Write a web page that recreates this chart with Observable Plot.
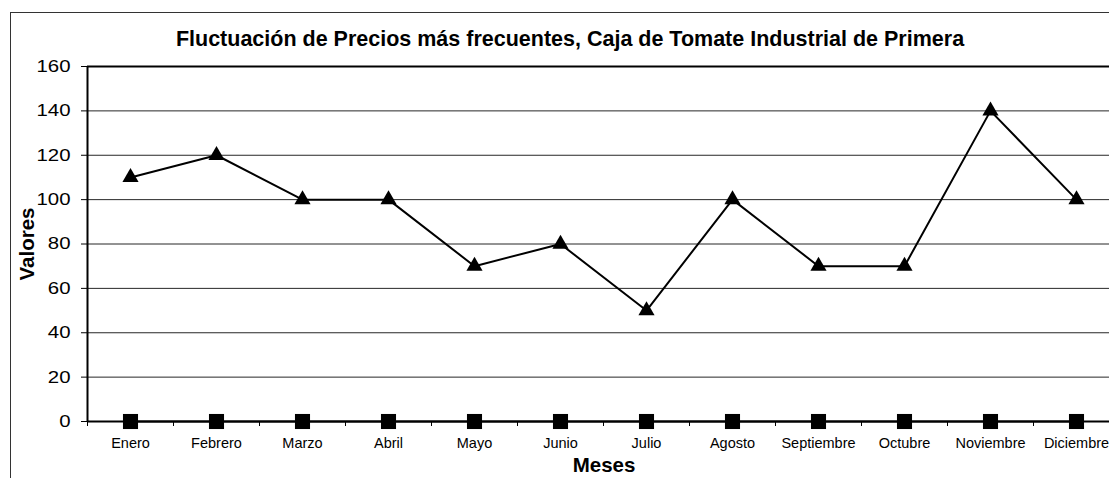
<!DOCTYPE html>
<html><head><meta charset="utf-8">
<script src="https://cdn.jsdelivr.net/npm/d3@7"></script>
<script src="https://cdn.jsdelivr.net/npm/@observablehq/plot@0.6"></script>
<style>
body{margin:0;overflow:hidden;background:#fff;font-family:"Liberation Sans",Arial,sans-serif;color:#000;}
#wrap{position:relative;width:1109px;height:478px;overflow:hidden;background:#fff;}
#frame{position:absolute;left:10px;top:12px;width:1200px;height:600px;border:1px solid #333;box-sizing:border-box;}
#title{position:absolute;left:10px;width:1120px;top:28px;text-align:center;font-weight:bold;font-size:21.5px;line-height:22px;white-space:nowrap;}
#chart{position:absolute;left:0;top:0;width:1140px;}
#chart svg{max-width:none;}
#ylab{position:absolute;left:27px;top:244px;transform:translate(-50%,-50%) rotate(-90deg);font-weight:bold;font-size:20.5px;white-space:nowrap;}
#xlab{position:absolute;left:604px;top:465px;transform:translate(-50%,-50%);font-weight:bold;font-size:20.5px;white-space:nowrap;}
</style></head>
<body>
<div id="wrap">
  <div id="frame"></div>
  <div id="title">Fluctuación de Precios más frecuentes, Caja de Tomate Industrial de Primera</div>
  <div id="chart"></div>
  <div id="ylab">Valores</div>
  <div id="xlab">Meses</div>
</div>
<script>
const months = ["Enero","Febrero","Marzo","Abril","Mayo","Junio","Julio","Agosto","Septiembre","Octubre","Noviembre","Diciembre"];
const precios = [110,120,100,100,70,80,50,100,70,70,140,100];
const serie2 = [0,0,0,0,0,0,0,0,0,0,0,0];
const yTicks = [0,20,40,60,80,100,120,140,160];

const dataA = months.map((m,i)=>({i:i+0.5, v:precios[i]}));
const dataB = months.map((m,i)=>({i:i+0.5, v:serie2[i]}));
const centers = months.map((m,i)=>i+0.5);
const bounds = d3.range(0, months.length+1);

const chart = Plot.plot({
  width: 1140, height: 478,
  marginLeft: 87, marginRight: 21, marginTop: 66, marginBottom: 57,
  style: {fontFamily: "Liberation Sans, Arial, sans-serif", color: "#000", background: "transparent", overflow: "visible", maxWidth: "none"},
  x: {domain: [0, months.length], axis: null},
  y: {domain: [0, 160], axis: null},
  marks: [
    Plot.ruleY(yTicks.filter(t=>t>0 && t<160), {stroke: "#000", strokeWidth: 1, strokeOpacity: 0.85}),
    Plot.ruleY([160], {stroke: "#000", strokeWidth: 2}),
    Plot.axisY({ticks: yTicks, tickSize: 6, tickPadding: 11, fontSize: 17, label: null, tickFormat: d=>String(d)}),
    Plot.axisX({ticks: bounds, tickSize: 5, tickFormat: ()=>"", label: null}),
    Plot.axisX({ticks: centers, tickSize: 0, tickPadding: 16, fontSize: 14.5, label: null, tickFormat: d=>months[Math.round(d-0.5)]}),
    Plot.ruleX([0], {stroke: "#000", strokeWidth: 2}),
    Plot.ruleY([0], {stroke: "#000", strokeWidth: 2}),
    Plot.line(dataB, {x: "i", y: "v", stroke: "#000", strokeWidth: 2}),
    Plot.line(dataA, {x: "i", y: "v", stroke: "#000", strokeWidth: 2}),
    Plot.dot(dataA, {x: "i", y: "v", symbol: "triangle", r: 6, fill: "#000", stroke: "none"}),
    Plot.dot(dataB, {x: "i", y: "v", symbol: "square", r: 8.5, fill: "#000", stroke: "none"})
  ]
});
document.getElementById("chart").appendChild(chart);
// widen the y tick labels slightly, keeping their right edges in place
chart.querySelectorAll('g[aria-label="y-axis tick label"] text').forEach(t => {
  const bb = t.getBBox();
  const right = bb.x + bb.width;
  const prev = t.getAttribute("transform") || "";
  t.setAttribute("transform", `${prev} translate(${right},0) scale(1.2,1) translate(${-right},0)`);
});
</script>
</body></html>
